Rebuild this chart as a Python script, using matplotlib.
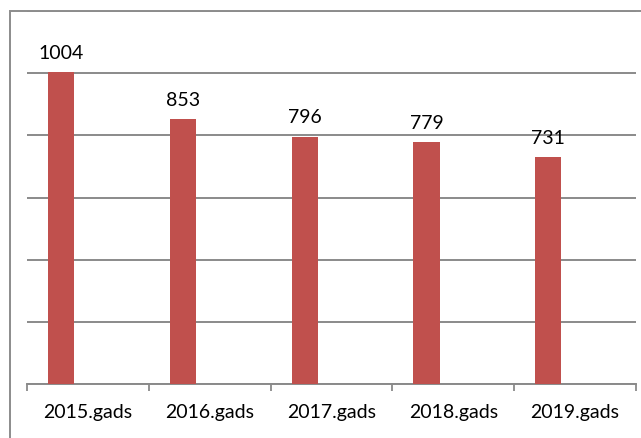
import matplotlib
matplotlib.use("Agg")
import matplotlib.pyplot as plt
from matplotlib.patches import Rectangle
import numpy as np

categories = ["2015.gads", "2016.gads", "2017.gads", "2018.gads", "2019.gads"]
values = [1004, 853, 796, 779, 731]

plt.rcParams['font.family'] = ['Lato', 'DejaVu Sans']

W, H = 641, 439
fig = plt.figure(figsize=(W/100, H/100), dpi=100)
ax = fig.add_axes([27/W, 1 - 385/H, (636-27)/W, (385-12)/H])

x = np.arange(len(categories))
offset = -0.22
bw = 0.215
bars = ax.bar(x + offset, values, width=bw, color="#C0504D", zorder=3)

for xi, v in zip(x, values):
    ax.annotate(str(v), (xi + offset, v), xytext=(0, 8), textcoords="offset points",
                ha="center", va="bottom", fontsize=14, color="black")

ax.set_xlim(-0.5, len(categories) - 0.5)
ax.set_ylim(0, 1200)
ax.set_yticks(np.arange(0, 1201, 200))
ax.yaxis.grid(True, color="#8a8a8a", linewidth=1.4, zorder=0)
ax.set_yticklabels([])
ax.tick_params(axis="y", length=0)

ax.set_xticks(x)
ax.set_xticklabels(categories, fontsize=14)
ax.set_xticks(np.arange(-0.5, len(categories)), minor=True)
ax.tick_params(axis="x", which="major", length=0, pad=14)
ax.tick_params(axis="x", which="minor", length=5, width=1.3, color="#8a8a8a", direction="out")

for s in ["top", "right", "left"]:
    ax.spines[s].set_visible(False)
ax.spines["bottom"].set_color("#8a8a8a")
ax.spines["bottom"].set_linewidth(1.4)

# outer chart border
fig.add_artist(Rectangle((10/W, -0.05), 1.0, 1.05 - 12/H, transform=fig.transFigure,
                         fill=False, edgecolor="#8c8c8c", linewidth=1.4))

fig.savefig("out.png", dpi=100)
